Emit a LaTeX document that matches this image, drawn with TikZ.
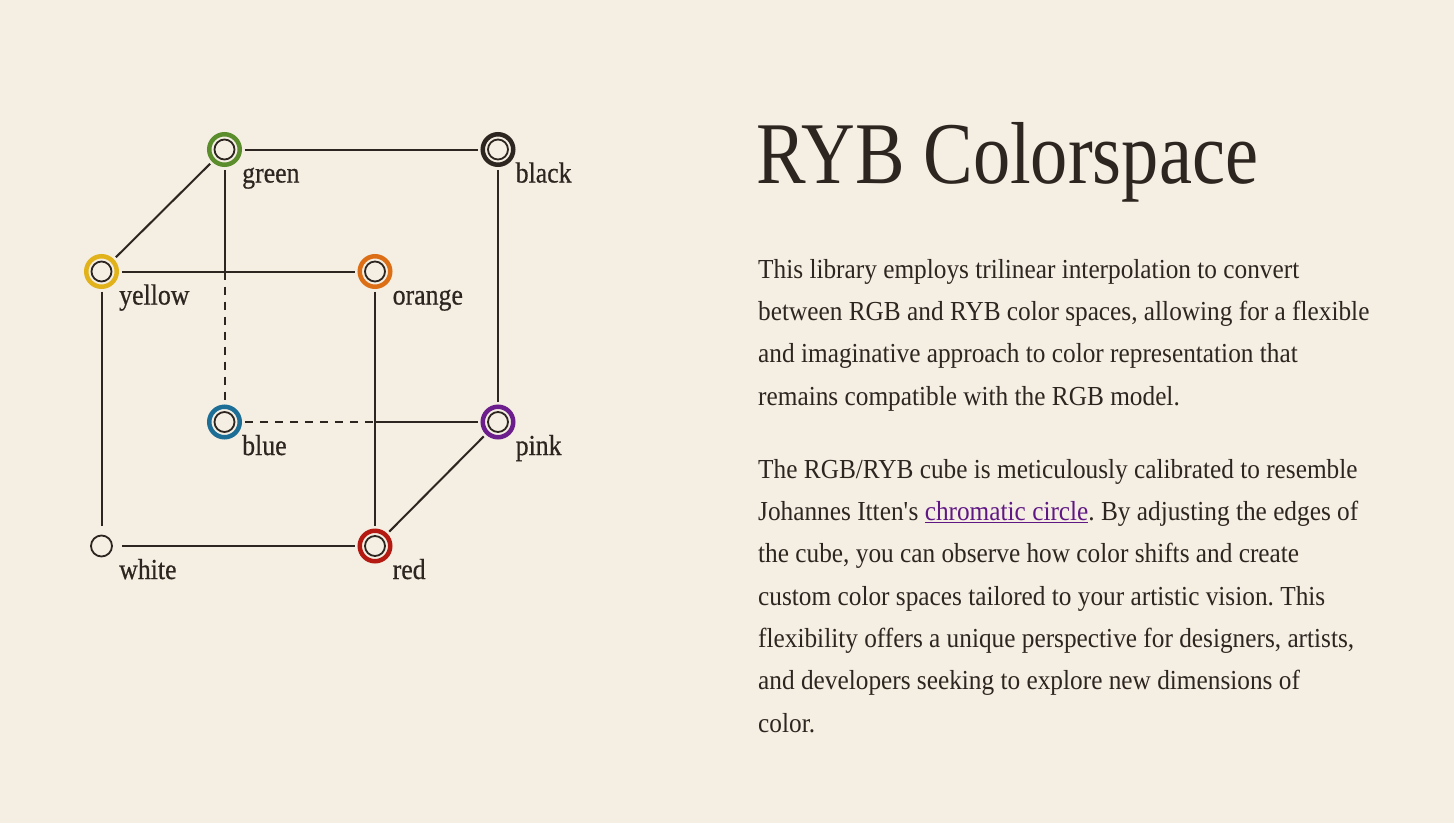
\documentclass[tikz,border=0pt]{standalone}
\usepackage{fontspec}
\setmainfont{Liberation Serif}
\newfontfamily\ttlfont[FakeStretch=0.845]{Liberation Serif}
\newfontfamily\txtfont[FakeStretch=0.92]{Liberation Serif}
\newfontfamily\lblfont[FakeStretch=0.89,FakeBold=0.6]{Liberation Serif}
\usetikzlibrary{positioning}
\frenchspacing
\definecolor{paper}{HTML}{F5EEE3}
\definecolor{ink}{HTML}{2D2620}
\definecolor{link}{HTML}{5F1784}
\definecolor{cGreen}{HTML}{5B8D2C}
\definecolor{cYellow}{HTML}{E1B21A}
\definecolor{cOrange}{HTML}{DC6F16}
\definecolor{cBlue}{HTML}{1C6E96}
\definecolor{cPink}{HTML}{6B1E8C}
\definecolor{cRed}{HTML}{B41A12}
\tikzset{
  vtx/.style={circle, draw=#1, fill=paper, line width=4.5pt, minimum size=30.5pt, inner sep=0pt, outer sep=5pt},
  wvtx/.style={circle, draw=ink, fill=paper, line width=1.8pt, minimum size=21pt, inner sep=0pt, outer sep=10pt},
  core/.style={draw=ink, line width=1.8pt},
  edge/.style={draw=ink, line width=2pt},
  hid/.style={edge, dash pattern=on 8pt off 7pt},
  lbl/.style={font=\lblfont\fontsize{29}{30}\selectfont, text=ink, anchor=base west, inner sep=0pt},
  body/.style={font=\txtfont\fontsize{27.5}{30}\selectfont, text=ink, anchor=base west, inner sep=0pt},
  ttl/.style={font=\ttlfont\fontsize{88}{90}\selectfont, text=ink, anchor=base west, inner sep=0pt}
}
\begin{document}
\begin{tikzpicture}[x=1pt, y=-1pt]
  \useasboundingbox (0,0) rectangle (1454,823);
  \fill[paper] (0,0) rectangle (1454,823);
  % cube corners
  \node[vtx=cGreen] (green) at (224.5,149.5) {};
  \node[vtx=ink] (black) at (498,149.5) {};
  \node[vtx=cYellow] (yellow) at (101.5,271.5) {};
  \node[vtx=cOrange] (orange) at (375,271.5) {};
  \node[vtx=cBlue] (blue) at (224.5,422) {};
  \node[vtx=cPink] (pink) at (498,422) {};
  \node[wvtx] (white) at (101.5,546) {};
  \node[vtx=cRed] (red) at (375,546) {};
  \foreach \n in {green,black,yellow,orange,blue,pink,red}
    \draw[core] (\n.center) circle[radius=10pt];
  \coordinate (gy) at (green |- yellow);
  \coordinate (ob) at (orange |- blue);
  % edges
  \draw[edge] (green) -- (black);
  \draw[edge] (green) -- (yellow);
  \draw[edge] (yellow) -- (orange);
  \draw[edge] (yellow) -- (white);
  \draw[edge] (orange) -- (red);
  \draw[edge] (black) -- (pink);
  \draw[edge] (pink) -- (red);
  \draw[edge] (white) -- (red);
  \draw[edge] (green) -- (gy);
  \draw[hid] (gy) -- (blue);
  \draw[hid] (blue) -- (ob);
  \draw[edge] (ob) -- (pink);
  % labels
  \foreach \n in {green,black,yellow,orange,blue,pink,white,red}
    \node[lbl] (\n-lbl) at ([shift={(17.5,33)}]\n.center) {\n};
  % text
  \node[ttl] (title) at (756,183.5) {RYB Colorspace};
  \foreach \t [count=\i from 0] in {This library employs trilinear interpolation to convert,
      {between RGB and RYB color spaces, allowing for a flexible},
      and imaginative approach to color representation that,
      remains compatible with the RGB model.}
    \node[body] (pa\i) at (758,278.3+42.3*\i) {\t};
  \foreach \t [count=\i from 0] in {The RGB/RYB cube is meticulously calibrated to resemble,
      {Johannes Itten\textquotesingle s \textcolor{link}{\underline{chromatic circle}}. By adjusting the edges of},
      {the cube, you can observe how color shifts and create},
      custom color spaces tailored to your artistic vision. This,
      {flexibility offers a unique perspective for designers, artists,},
      and developers seeking to explore new dimensions of,
      color.}
    \node[body] (pb\i) at (758,478.3+42.3*\i) {\t};
\end{tikzpicture}
\end{document}
